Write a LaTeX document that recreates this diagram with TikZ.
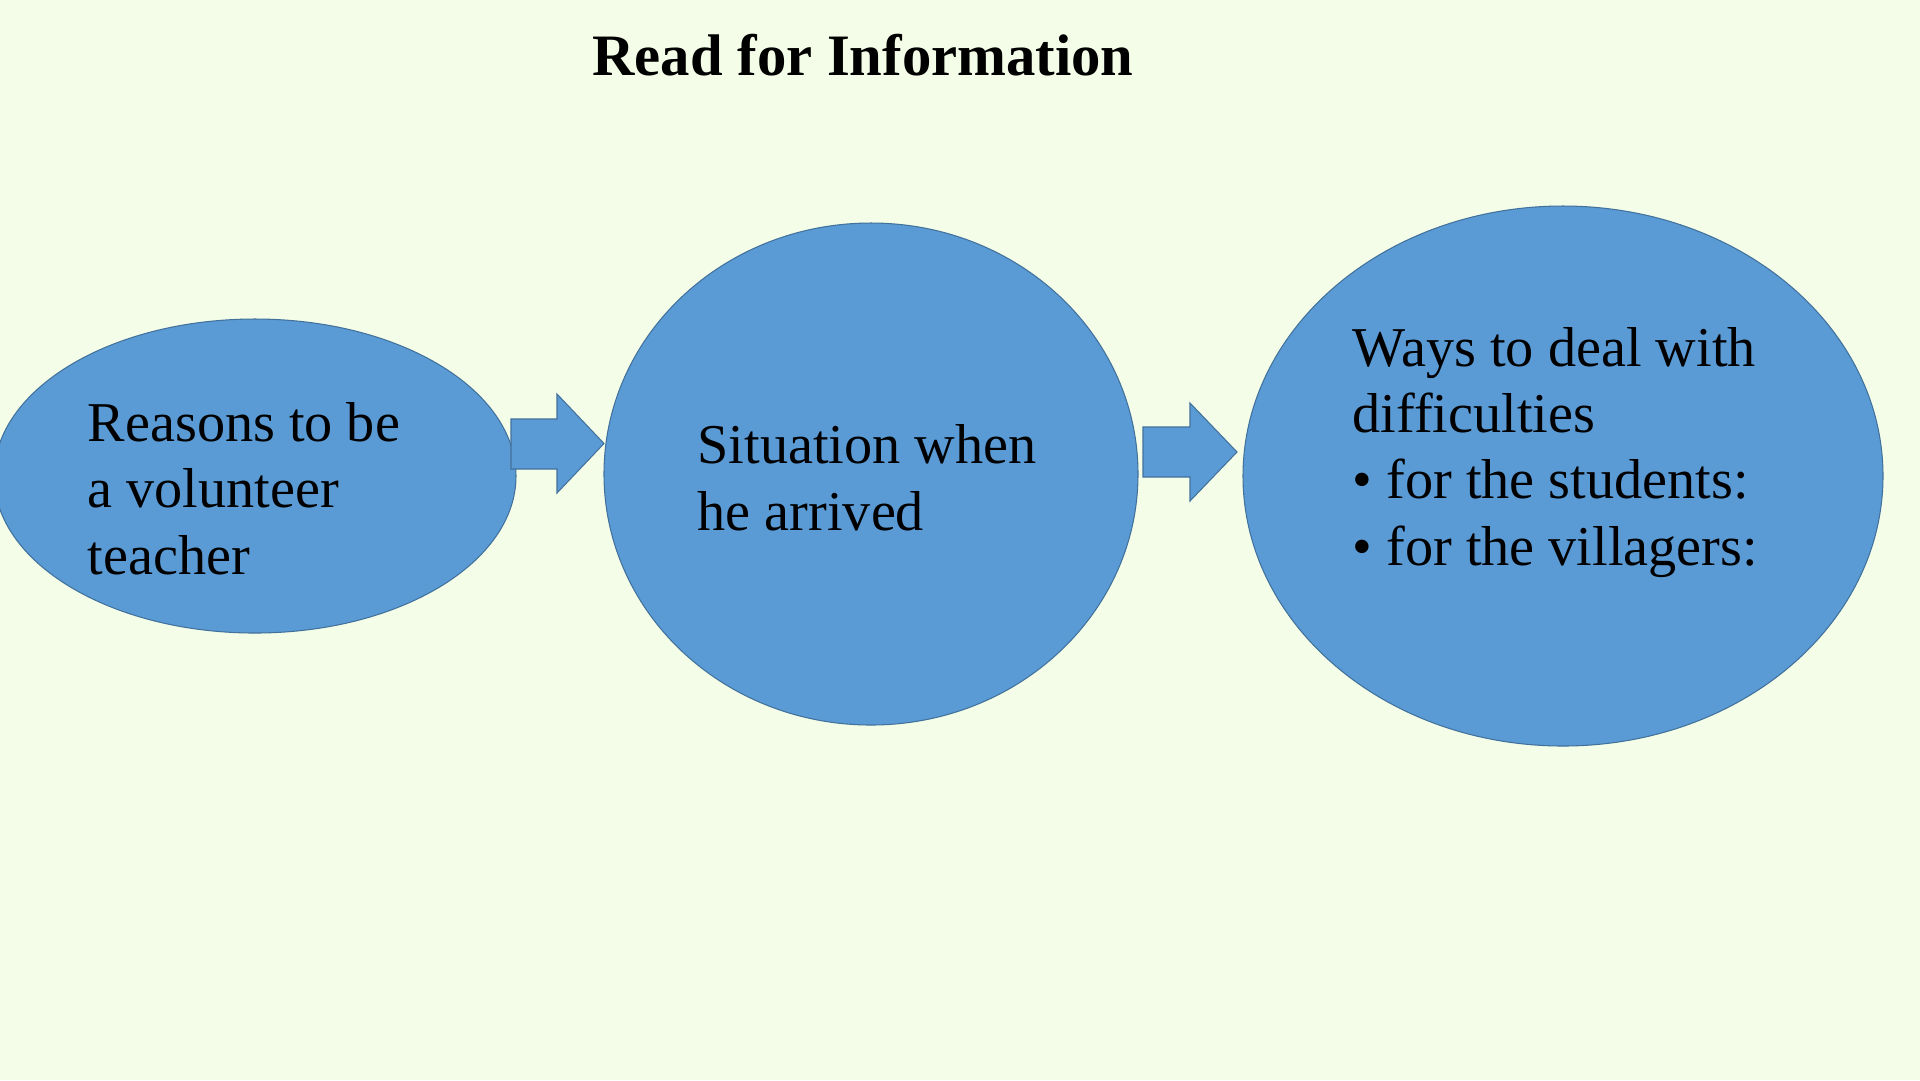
\documentclass[tikz,border=0pt]{standalone}
\usepackage{fontspec}
\setmainfont{Liberation Serif}
\usetikzlibrary{shapes.geometric, positioning}
\definecolor{SlideBack}{RGB}{244,253,231}
\definecolor{BubbleFill}{RGB}{91,155,213}
\definecolor{BubbleLine}{RGB}{65,113,156}

\begin{document}
\begin{tikzpicture}[x=0.1mm, y=-0.1mm,
    bubble/.style={shape=ellipse, draw=BubbleLine, fill=BubbleFill, line width=0.3pt, inner sep=0pt},
    bubbletext/.style={anchor=base west, inner sep=0pt, align=left, font=\fontsize{16}{18.8}\selectfont},
    blockarrow/.style={draw=BubbleLine, fill=BubbleFill, line width=0.3pt, line join=miter}]
    \fill[SlideBack] (0,0) rectangle (1920,1080);
    \useasboundingbox (0,0) rectangle (1920,1080);

    \node[font=\bfseries\fontsize{16.7}{20}\selectfont, anchor=base] (title) at (863,75) {Read for Information};

    % the three bubbles
    \node[bubble, minimum width=52.2mm, minimum height=31.4mm] (reasons)   at ( 255,476) {};
    \node[bubble, minimum width=53.4mm, minimum height=50.2mm] (situation) at ( 871,474) {};
    \node[bubble, minimum width=64mm,   minimum height=54mm]   (ways)      at (1563,476) {};

    % block arrows between them
    \draw[blockarrow] (511,419) -- (557,419) -- (557,394) -- (604,443.5) -- (557,493) -- (557,469) -- (511,469) -- cycle;
    \draw[blockarrow] (1143,427) -- (1190,427) -- (1190,403) -- (1237,452) -- (1190,501) -- (1190,477) -- (1143,477) -- cycle;

    % texts, placed at the baseline of their last line
    \node[bubbletext] (reasonstext)   at (87,574)   {Reasons to be\\a volunteer\\teacher};
    \node[bubbletext] (situationtext) at (697,530)  {Situation when\\he arrived};
    \node[bubbletext] (waystext)      at (1352,565) {Ways to deal with\\difficulties\\\textbullet{} for the students:\\\textbullet{} for the villagers:};
\end{tikzpicture}
\end{document}
